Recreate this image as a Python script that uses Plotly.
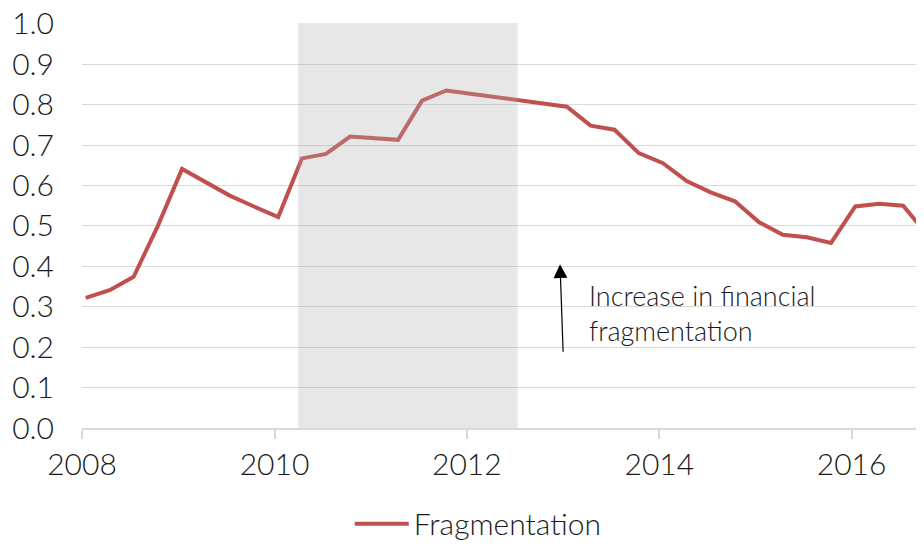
import pandas as pd
import plotly.graph_objects as go

# Quarterly observations (mid-month of each quarter start)
dates = pd.date_range("2008-01-01", periods=36, freq="QS") + pd.Timedelta(days=14)
fragmentation = [
    0.322, 0.341, 0.374, 0.500, 0.641, 0.608, 0.575, 0.548,
    0.522, 0.667, 0.678, 0.721, 0.717, 0.713, 0.810, 0.835,
    0.827, 0.819, 0.811, 0.803, 0.795, 0.748, 0.738, 0.680,
    0.655, 0.611, 0.583, 0.561, 0.509, 0.478, 0.472, 0.458,
    0.548, 0.555, 0.550, 0.478,
]
shade_start, shade_end = "2010-04-01", "2012-07-12"
tick_vals = ["2008-01-01", "2010-01-01", "2012-01-01", "2014-01-01", "2016-01-01"]
tick_text = ["2008", "2010", "2012", "2014", "2016"]
y_ticks = [i / 10 for i in range(11)]

FONT = "Lato"
RED = "#C0504D"
GRID = "#D9D9D9"
TXT = "#1a1a1a"

fig = go.Figure()
fig.add_trace(go.Scatter(
    x=dates, y=fragmentation, mode="lines", name="Fragmentation",
    line=dict(color=RED, width=4),
))

fig.add_shape(
    type="rect", xref="x", yref="y", x0=shade_start, x1=shade_end, y0=0, y1=1.003,
    fillcolor="rgba(175,175,175,0.3)", line=dict(width=0), layer="above",
)

fig.add_annotation(
    x="2012-12-20", y=0.405, ax="2013-01-01", ay=0.185,
    xref="x", yref="y", axref="x", ayref="y",
    showarrow=True, arrowhead=2, arrowsize=2.3, arrowwidth=1.2, arrowcolor="#000000",
    text="",
)
fig.add_annotation(
    x="2013-04-01", y=0.284, xref="x", yref="y",
    xanchor="left", yanchor="middle", showarrow=False, align="left",
    text="Increase in financial<br>fragmentation",
    font=dict(family=FONT, size=27, color=TXT, weight=300),
)

# page has an 8px body margin, so the figure is sized to end at the window edge
fig.update_layout(
    width=916, height=542,
    margin=dict(l=74, r=0, t=15, b=122),
    paper_bgcolor="white", plot_bgcolor="white",
    font=dict(family=FONT, size=29, color=TXT, weight=300),
    showlegend=True,
    legend=dict(
        orientation="h", x=0.318, xanchor="left", y=-0.172, yanchor="top",
        font=dict(family=FONT, size=30, color=TXT, weight=300),
        itemwidth=54,
    ),
)
fig.update_xaxes(
    type="date", range=["2008-01-01", "2016-10-02"],
    tickvals=tick_vals, ticktext=tick_text,
    showgrid=False, showline=True, linecolor=GRID, linewidth=1.5,
    ticks="outside", ticklen=9, tickcolor=GRID, tickwidth=1.5,
    tickfont=dict(family=FONT, size=30, color=TXT, weight=300),
    ticklabeloverflow="allow",
)
fig.update_yaxes(
    range=[0, 1.002], tickvals=y_ticks, tickformat=".1f",
    showgrid=True, gridcolor=GRID, gridwidth=1.3, zeroline=False,
    tickfont=dict(family=FONT, size=30, color=TXT, weight=300),
    ticks="", ticklabelstandoff=27, automargin=False,
    ticklabeloverflow="allow",
)

fig.write_html("out.html")
